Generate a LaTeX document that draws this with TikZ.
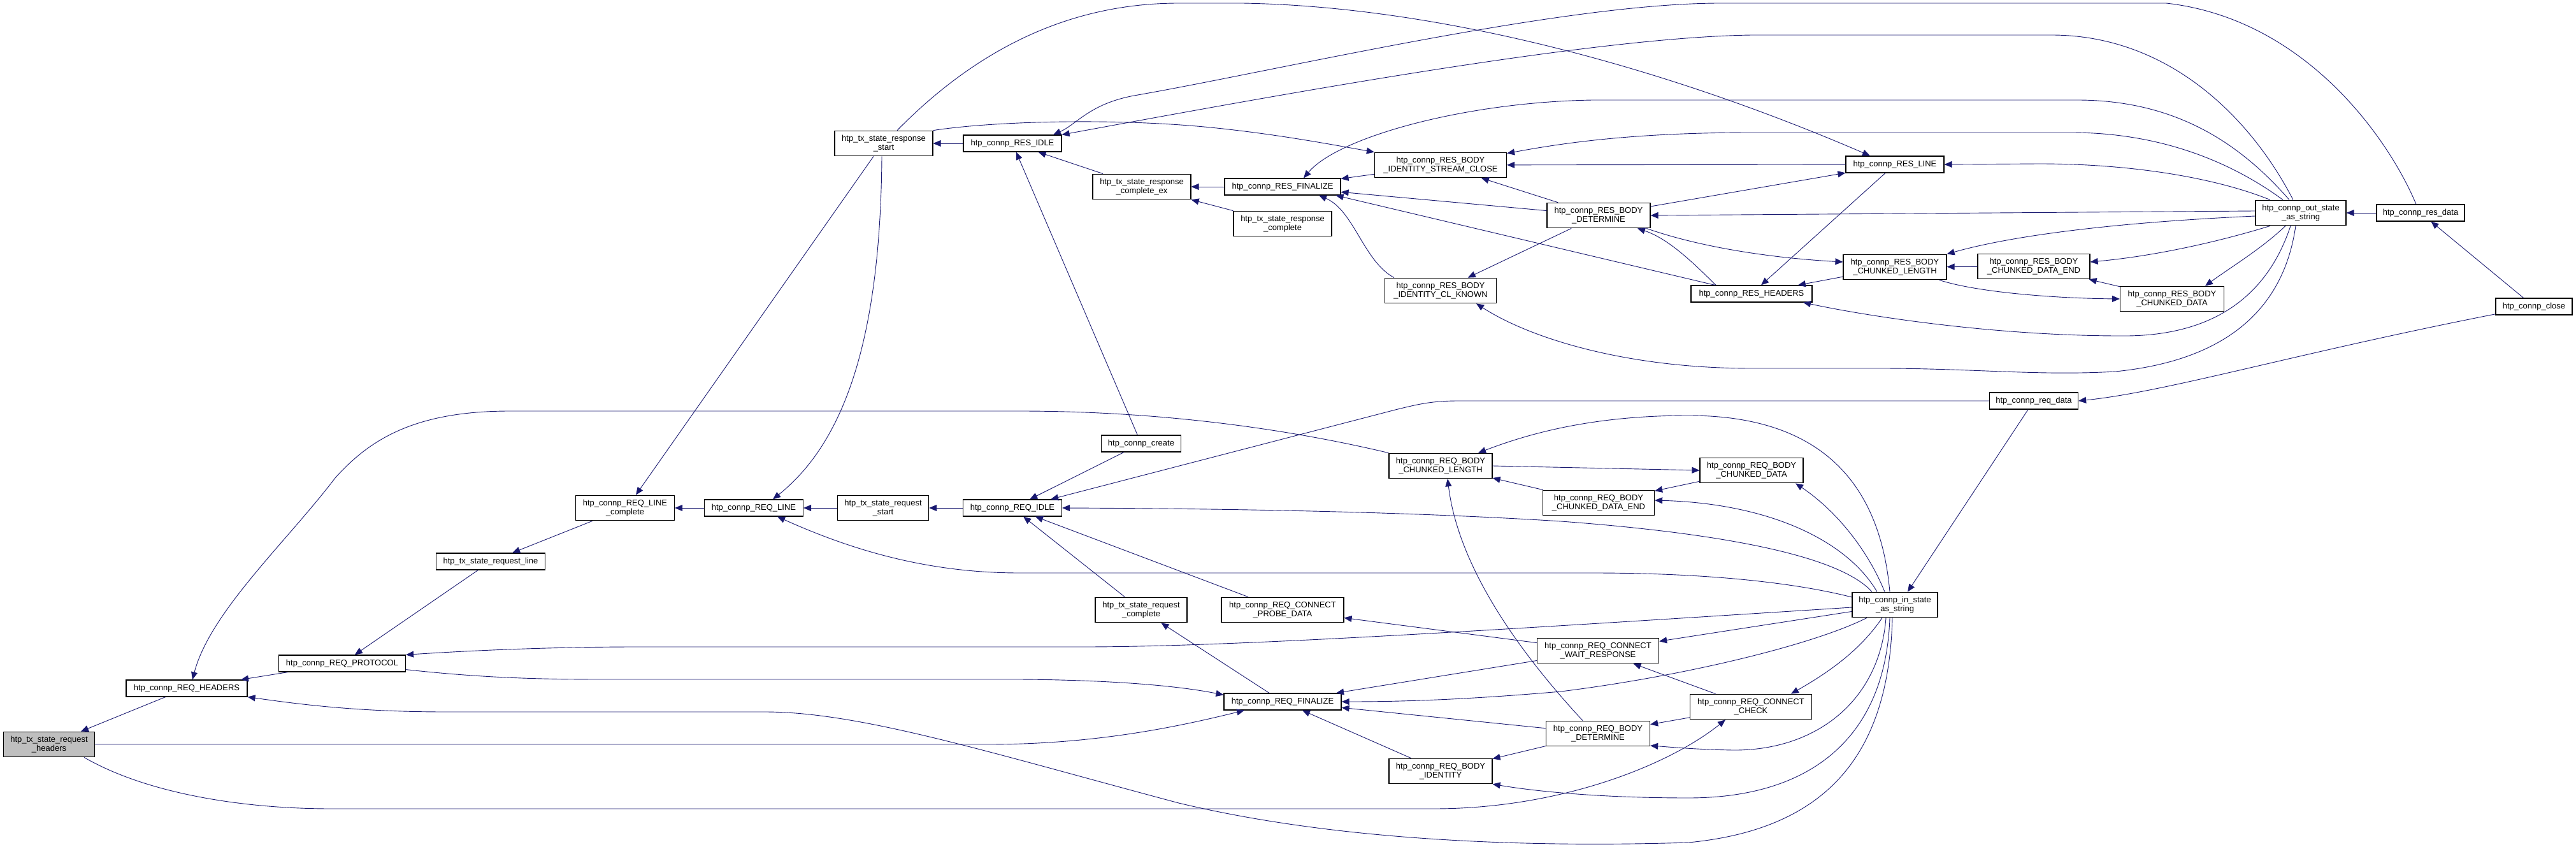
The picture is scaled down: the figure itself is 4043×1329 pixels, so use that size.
\documentclass[tikz,border=0pt]{standalone}
\usepackage{fontspec}
\setmainfont{Liberation Sans}
\usepackage{tikz}
\usetikzlibrary{arrows.meta}
\definecolor{midnight}{RGB}{25,25,112}
\definecolor{focusgray}{RGB}{191,191,191}
\tikzset{
  fn/.style={draw, line width=1.2pt, fill=white, minimum height=26pt,
             inner xsep=2pt, inner ysep=6.5pt, align=center,
             font=\fontsize{13}{14.5}\selectfont},
  focus/.style={fn, fill=focusgray},
  call/.style={-{Triangle[length=12pt,width=10pt]}, color=midnight, line width=0.9pt},
}
\begin{document}
\begin{tikzpicture}[x=1pt,y=-1pt]
  \useasboundingbox (0,0) rectangle (4043,1329);

  \node[focus, minimum width=143pt] (hdrs) at (77,1168) {htp\_tx\_state\_request\\\_headers};
  \node[fn, minimum width=190pt] (reqHeaders) at (293,1080) {htp\_connp\_REQ\_HEADERS};
  \node[fn, minimum width=199pt] (reqProtocol) at (537,1041) {htp\_connp\_REQ\_PROTOCOL};
  \node[fn, minimum width=171pt] (reqLineTx) at (770,881) {htp\_tx\_state\_request\_line};
  \node[fn, minimum width=155pt] (reqLineC) at (981,797) {htp\_connp\_REQ\_LINE\\\_complete};
  \node[fn, minimum width=155pt] (reqLine) at (1183,797) {htp\_connp\_REQ\_LINE};
  \node[fn, minimum width=143pt] (reqStart) at (1386,797) {htp\_tx\_state\_request\\\_start};
  \node[fn, minimum width=155pt] (reqIdle) at (1589,797) {htp\_connp\_REQ\_IDLE};
  \node[fn, minimum width=125pt] (create) at (1791,696) {htp\_connp\_create};
  \node[fn, minimum width=144pt] (reqComplete) at (1791,957) {htp\_tx\_state\_request\\\_complete};
  \node[fn, minimum width=192pt] (probe) at (2013,957) {htp\_connp\_REQ\_CONNECT\\\_PROBE\_DATA};
  \node[fn, minimum width=184pt] (reqFinal) at (2013,1101) {htp\_connp\_REQ\_FINALIZE};
  \node[fn, minimum width=162pt] (reqCL) at (2261,731) {htp\_connp\_REQ\_BODY\\\_CHUNKED\_LENGTH};
  \node[fn, minimum width=175pt] (reqCDE) at (2509,789) {htp\_connp\_REQ\_BODY\\\_CHUNKED\_DATA\_END};
  \node[fn, minimum width=162pt] (reqCD) at (2749,738) {htp\_connp\_REQ\_BODY\\\_CHUNKED\_DATA};
  \node[fn, minimum width=191pt] (waitResp) at (2508,1021) {htp\_connp\_REQ\_CONNECT\\\_WAIT\_RESPONSE};
  \node[fn, minimum width=191pt] (connCheck) at (2748,1109) {htp\_connp\_REQ\_CONNECT\\\_CHECK};
  \node[fn, minimum width=163pt] (reqDet) at (2508,1151) {htp\_connp\_REQ\_BODY\\\_DETERMINE};
  \node[fn, minimum width=162pt] (reqIdent) at (2261,1210) {htp\_connp\_REQ\_BODY\\\_IDENTITY};
  \node[fn, minimum width=134pt] (inState) at (2974,949) {htp\_connp\_in\_state\\\_as\_string};
  \node[fn, minimum width=139pt] (reqData) at (3192,629) {htp\_connp\_req\_data};
  \node[fn, minimum width=154pt] (resStart) at (1387,225) {htp\_tx\_state\_response\\\_start};
  \node[fn, minimum width=154pt] (resIdle) at (1589,225) {htp\_connp\_RES\_IDLE};
  \node[fn, minimum width=154pt] (resCompEx) at (1792,293) {htp\_tx\_state\_response\\\_complete\_ex};
  \node[fn, minimum width=182pt] (resFinal) at (2013,293) {htp\_connp\_RES\_FINALIZE};
  \node[fn, minimum width=154pt] (resComp) at (2013,351) {htp\_tx\_state\_response\\\_complete};
  \node[fn, minimum width=207pt] (streamClose) at (2261,259) {htp\_connp\_RES\_BODY\\\_IDENTITY\_STREAM\_CLOSE};
  \node[fn, minimum width=175pt] (clKnown) at (2261,456) {htp\_connp\_RES\_BODY\\\_IDENTITY\_CL\_KNOWN};
  \node[fn, minimum width=162pt] (resDet) at (2509,338) {htp\_connp\_RES\_BODY\\\_DETERMINE};
  \node[fn, minimum width=190pt] (resHeaders) at (2749,461) {htp\_connp\_RES\_HEADERS};
  \node[fn, minimum width=154pt] (resLine) at (2974,258) {htp\_connp\_RES\_LINE};
  \node[fn, minimum width=162pt] (resCL) at (2974,419) {htp\_connp\_RES\_BODY\\\_CHUNKED\_LENGTH};
  \node[fn, minimum width=176pt] (resCDE) at (3192,418) {htp\_connp\_RES\_BODY\\\_CHUNKED\_DATA\_END};
  \node[fn, minimum width=163pt] (resCD) at (3409,469) {htp\_connp\_RES\_BODY\\\_CHUNKED\_DATA};
  \node[fn, minimum width=142pt] (outState) at (3611,334) {htp\_connp\_out\_state\\\_as\_string};
  \node[fn, minimum width=138pt] (resData) at (3799,334) {htp\_connp\_res\_data};
  \node[fn, minimum width=120pt] (close) at (3977,481) {htp\_connp\_close};

  \draw[call] (reqHeaders) -- (hdrs);
  \draw[call] (reqProtocol) -- (reqHeaders);
  \draw[call] (reqLineTx) -- (reqProtocol);
  \draw[call] (reqLineC) -- (reqLineTx);
  \draw[call] (reqLine) -- (reqLineC);
  \draw[call] (reqStart) -- (reqLine);
  \draw[call] (reqIdle) -- (reqStart);
  \draw[call] (create) -- (reqIdle);
  \draw[call] (reqComplete) -- (reqIdle);
  \draw[call] (probe) -- (reqIdle);
  \draw[call] (reqFinal) -- (reqComplete);
  \draw[call] (hdrs.east) -- (1550,1168) .. controls (1720,1168) and (1850,1140) .. ([xshift=-60pt]reqFinal.south);
  \draw[call] ([xshift=55pt]hdrs.south) .. controls (230,1245) and (380,1269) .. (520,1269) -- (2250,1269)
    .. controls (2450,1269) and (2620,1200) .. ([xshift=-40pt]connCheck.south);
  \draw[call] ([yshift=4pt]reqProtocol.south east) .. controls (760,1064) and (850,1066) .. (950,1066) -- (1600,1066)
    .. controls (1760,1067) and (1860,1078) .. ([yshift=-3pt]reqFinal.north west);
  \draw[call] ([yshift=-4pt]inState.west) .. controls (2400,985) and (1950,1015) .. (1700,1015) -- (1000,1015)
    .. controls (850,1015) and (720,1022) .. (reqProtocol.north east);
  \draw[call] ([yshift=12pt]inState.west) .. controls (2800,910) and (2650,899) .. (2500,899) -- (1600,899)
    .. controls (1450,899) and (1330,860) .. ([xshift=37pt]reqLine.south);
  \draw[call] ([xshift=-36pt]inState.north) .. controls (2890,875) and (2720,838) .. (2450,818)
    .. controls (2200,802) and (1900,798) .. (reqIdle.east);
  \draw[call] (reqData.west) -- (2290,629) .. controls (2250,629) and (2230,633) .. (2190,643)
    -- ([xshift=-18pt]reqIdle.north east);
  \draw[call] ([xshift=-4pt]inState.south) .. controls (2965,1170) and (2880,1300) .. (2650,1322)
    .. controls (2400,1330) and (2100,1320) .. (1850,1260) .. controls (1550,1180) and (1350,1117) .. (1200,1117)
    -- (700,1117) .. controls (560,1117) and (470,1105) .. (reqHeaders.south east);
  \draw[call] (reqCL.north west) .. controls (2000,668) and (1800,645) .. (1600,645) -- (800,645)
    .. controls (650,645) and (580,690) .. (526,750) .. controls (450,850) and (330,960) .. ([xshift=9pt]reqHeaders.north);
  \draw[call] ([xshift=-16pt]resStart.south) -- ([xshift=17pt]reqLineC.north);
  \draw[call] ([xshift=-3pt]resStart.south) .. controls (1382,520) and (1330,690) .. ([xshift=30pt]reqLine.north);

  \draw[call] (resIdle) -- (resStart);
  \draw[call] (create) -- (resIdle);
  \draw[call] (resCompEx) -- (resIdle);
  \draw[call] (resFinal) -- (resCompEx);
  \draw[call] (resComp) -- (resCompEx);
  \draw[call] ([xshift=-7pt]resData.north) .. controls (3750,220) and (3620,30) .. (3400,5) -- (2700,5)
    .. controls (2450,5) and (2000,112) .. (1780,150) .. controls (1710,163) and (1690,195) .. ([xshift=64pt]resIdle.north);
  \draw[call] ([xshift=-12pt]outState.north) .. controls (3530,180) and (3400,55) .. (3220,55) -- (2750,55)
    .. controls (2500,58) and (2000,150) .. (resIdle.north east);
  \draw[call] ([xshift=-18pt]outState.north) .. controls (3520,230) and (3420,157) .. (3260,157) -- (2500,157)
    .. controls (2300,160) and (2100,215) .. ([xshift=33pt]resFinal.north);
  \draw[call] ([xshift=-28pt]outState.north) .. controls (3510,260) and (3400,208) .. (3250,208) -- (2750,208)
    .. controls (2560,208) and (2450,225) .. ([yshift=-2pt]streamClose.north east);
  \draw[call] ([xshift=-48pt]outState.north) .. controls (3480,280) and (3350,257) .. (3200,257) -- (resLine.east);
  \draw[call] ([yshift=3pt]outState.west) -- (resDet.east);
  \draw[call] ([yshift=-5pt]outState.west) .. controls (3300,350) and (3150,372) .. (resCL.north east);
  \draw[call] ([xshift=-48pt]outState.south) .. controls (3480,380) and (3380,402) .. ([yshift=7pt]resCDE.east);
  \draw[call] ([xshift=-24pt]outState.south) .. controls (3550,390) and (3500,420) .. ([xshift=52pt]resCD.north);
  \draw[call] ([xshift=-16pt]outState.south) .. controls (3560,460) and (3480,525) .. (3340,527)
    .. controls (3150,528) and (2950,500) .. ([xshift=81pt]resHeaders.south);
  \draw[call] ([xshift=-8pt]outState.south) .. controls (3585,480) and (3500,565) .. (3320,583)
    .. controls (3200,590) and (3100,578) .. (2950,578) -- (2750,578)
    .. controls (2550,578) and (2400,530) .. ([xshift=56pt]clKnown.south);
  \draw[call] (resData) -- (outState);
  \draw[call] (close) -- (resData);
  \draw[call] (close) .. controls (3600,555) and (3400,615) .. (reqData.east);
  \draw[call] (reqData) -- ([xshift=20pt]inState.north);
  \draw[call] (resStart.north east) .. controls (1560,190) and (1750,185) .. (1900,200)
    .. controls (2000,210) and (2080,225) .. (streamClose.north west);
  \draw[call] ([xshift=21pt]resStart.north) .. controls (1550,60) and (1700,5) .. (1850,5) -- (1950,5)
    .. controls (2250,10) and (2600,100) .. ([xshift=-39pt]resLine.north);
  \draw[call] (streamClose) -- (resFinal);
  \draw[call] (resDet) -- (resFinal);
  \draw[call] (resHeaders) -- ([xshift=-8pt]resFinal.south east);
  \draw[call] ([xshift=-73pt]clKnown.north) .. controls (2140,410) and (2125,330) .. ([xshift=57pt]resFinal.south);
  \draw[call] (resDet) -- (streamClose);
  \draw[call] (resLine) -- (streamClose);
  \draw[call] (resDet) -- (resLine);
  \draw[call] ([xshift=-56pt]resHeaders.north) .. controls (2660,415) and (2620,375) .. ([xshift=61pt]resDet.south);
  \draw[call] ([xshift=75pt]resDet.south) .. controls (2680,392) and (2800,406) .. ([yshift=8pt]resCL.west);
  \draw[call] (resDet) -- (clKnown);
  \draw[call] (resLine) -- (resHeaders);
  \draw[call] (resCL) -- (resHeaders);
  \draw[call] (resCDE) -- (resCL);
  \draw[call] ([xshift=-12pt]resCL.south east) .. controls (3100,458) and (3220,468) .. (resCD.west);
  \draw[call] (resCD) -- (resCDE);

  \draw[call] (reqCL.east) -- (reqCD.west);
  \draw[call] (reqCDE) -- (reqCL);
  \draw[call] (reqCD) -- (reqCDE);
  \draw[call] ([xshift=-28pt]inState.north) .. controls (2900,850) and (2780,790) .. ([yshift=4pt]reqCDE.east);
  \draw[call] ([xshift=-16pt]inState.north) .. controls (2930,860) and (2880,800) .. ([xshift=69pt]reqCD.south);
  \draw[call] ([xshift=-8pt]inState.north) .. controls (2950,750) and (2850,652) .. (2650,652)
    .. controls (2500,652) and (2400,680) .. ([xshift=59pt]reqCL.north);
  \draw[call] ([xshift=-24pt]reqDet.north) .. controls (2400,1040) and (2290,900) .. ([xshift=11pt]reqCL.south);
  \draw[call] (waitResp) -- (probe);
  \draw[call] (inState) -- (waitResp);
  \draw[call] (waitResp) -- (reqFinal);
  \draw[call] ([xshift=-44pt]inState.south) .. controls (2850,1010) and (2650,1060) .. (2450,1085)
    .. controls (2300,1098) and (2200,1101) .. (reqFinal.east);
  \draw[call] (reqDet) -- (reqFinal);
  \draw[call] (reqIdent) -- (reqFinal);
  \draw[call] (connCheck) -- (waitResp);
  \draw[call] ([xshift=-20pt]inState.south) .. controls (2920,1020) and (2870,1055) .. ([xshift=63pt]connCheck.north);
  \draw[call] (connCheck) -- (reqDet);
  \draw[call] ([xshift=-14pt]inState.south) .. controls (2950,1100) and (2850,1178) .. (2720,1177)
    .. controls (2660,1176) and (2620,1172) .. ([yshift=-19pt]reqDet.east);
  \draw[call] (reqDet) -- (reqIdent);
  \draw[call] ([xshift=-8pt]inState.south) .. controls (2960,1150) and (2850,1252) .. (2650,1252)
    .. controls (2500,1252) and (2400,1240) .. (reqIdent.south east);
\end{tikzpicture}
\end{document}
